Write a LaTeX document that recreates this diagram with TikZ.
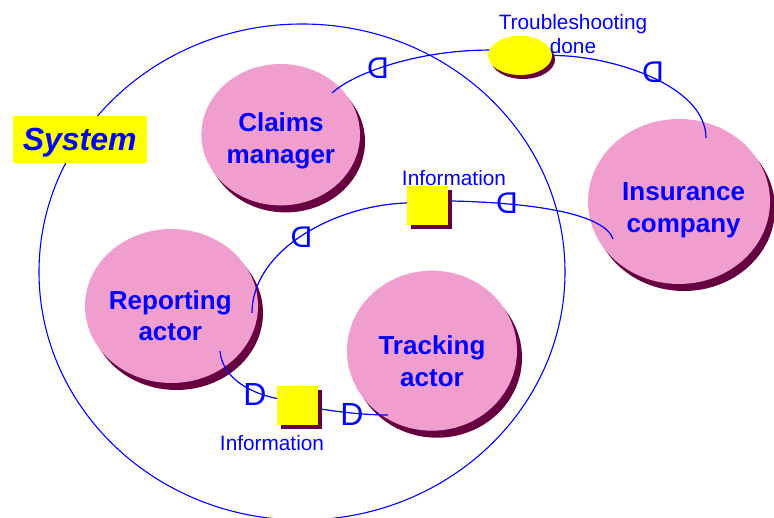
\documentclass[tikz,border=0pt]{standalone}
\usepackage{fontspec}
\setmainfont{Liberation Sans}
\usetikzlibrary{shapes.geometric,shadows,calc}
\definecolor{pinkc}{RGB}{240,158,206}
\definecolor{shadc}{RGB}{102,0,64}
\definecolor{bluec}{RGB}{0,0,255}
\definecolor{yelc}{RGB}{255,255,0}
\begin{document}
\begin{tikzpicture}[x=1pt,y=-1pt,
  actor/.style={ellipse, fill=pinkc, inner sep=0pt, outer sep=0pt,
    drop shadow={shadow xshift=5pt, shadow yshift=-7pt, fill=shadc, opacity=1}},
  actortext/.style={anchor=base, text=bluec, align=center, inner sep=0pt,
    font=\fontsize{26}{31.5}\selectfont\bfseries},
  store/.style={rectangle, fill=yelc, minimum width=41pt, minimum height=39pt,
    inner sep=0pt, outer sep=0pt,
    drop shadow={shadow xshift=4pt, shadow yshift=-4pt, fill=shadc, opacity=1}},
  smalltext/.style={anchor=base, text=bluec, align=center, inner sep=0pt,
    font=\fontsize{20.8}{24}\selectfont},
  flow/.style={draw=bluec, line width=1.2pt},
  dsym/.style={text=bluec, inner sep=0pt, font=\fontsize{30}{30}\selectfont},
  dsymb/.style={text=bluec, inner sep=0pt, font=\fontsize{32}{32}\selectfont},
]
\useasboundingbox (0,0) rectangle (774,518);
\fill[white] (0,0) rectangle (774,518);

% system boundary
\node[draw=bluec, line width=1.1pt, ellipse, minimum width=526pt, minimum height=496pt,
      inner sep=0pt] (system) at (302,272) {};
\node[fill=yelc, minimum width=134pt, minimum height=47.5pt, inner sep=0pt, text depth=0pt,
      text=bluec, font=\fontsize{32}{32}\selectfont\bfseries\itshape] (syslbl) at (79.7,139.5) {System};

% actors
\node[actor, minimum width=158.6pt, minimum height=141.4pt] (claims) at (280.7,134.7) {};
\node[actor, minimum width=182pt, minimum height=165pt] (insurance) at (679,201.5) {};
\node[actor, minimum width=173pt, minimum height=154pt] (reporting) at (171.5,306) {};
\node[actor, minimum width=170pt, minimum height=160pt] (tracking) at (432,350.7) {};

% events and stores
\node[ellipse, fill=yelc, minimum width=64pt, minimum height=39pt, inner sep=0pt, outer sep=0pt,
      drop shadow={shadow xshift=3pt, shadow yshift=-4pt, fill=shadc, opacity=1}] (ts) at (520,55.5) {};
\node[store] (info1) at (427.5,205.5) {};
\node[store] (info2) at (297.5,405.5) {};

% connector end points inside actors
\coordinate (cmOut) at ($(claims.center)+(51.3,-41.7)$);
\coordinate (icIn) at ($(insurance.center)+(27,-63.5)$);
\coordinate (icOut) at ($(insurance.center)+(-66,37.5)$);
\coordinate (raIn) at ($(reporting.center)+(80.5,7)$);
\coordinate (raOut) at ($(reporting.center)+(48.5,45)$);
\coordinate (taIn) at ($(tracking.center)+(-44,64.3)$);

% connectors
\draw[flow] (cmOut) .. controls (355,72) and (420,50) .. (ts.170);
\draw[flow] (ts.east) .. controls (610,55) and (706,85) .. (icIn);
\draw[flow] (icOut) .. controls (605,215) and (540,203) .. ($(info1.east)+(3.5,-4.5)$);
\draw[flow] ($(info1.west)+(0,-2.5)$) .. controls (335,205) and (252,250) .. (raIn);
\draw[flow] (raOut) .. controls (222,375) and (245,392) .. ($(info2.west)+(0,-7)$);
\draw[flow] ($(info2.east)+(2.5,3.5)$) .. controls (340,412) and (365,415) .. (taIn);

% flow symbols
\node[dsym] (d1) at (378,68.5) {\reflectbox{D}};
\node[dsym] (d2) at (653,72.5) {\reflectbox{D}};
\node[dsym] (d3) at (507,203) {\reflectbox{D}};
\node[dsym] (d4) at (301.5,237.5) {\reflectbox{D}};
\node[dsymb] (d5) at (255,394) {D};
\node[dsymb] (d6) at (352,414.5) {D};

% labels (base anchor = baseline of the last line)
\node[actortext] (claimsT) at (280.9,163.2) {Claims\\manager};
\node[actortext] (insuranceT) at (683.6,232.5) {Insurance\\company};
\node[actortext] (reportingT) at (170.3,340.8) {Reporting\\actor};
\node[actortext] (trackingT) at (432,386.5) {Tracking\\actor};
\node[smalltext] (tsT) at (573,53.3) {Troubleshooting\\done};
\node[smalltext] (info1T) at (454,186) {Information};
\node[smalltext] (info2T) at (272,450) {Information};
\end{tikzpicture}
\end{document}
